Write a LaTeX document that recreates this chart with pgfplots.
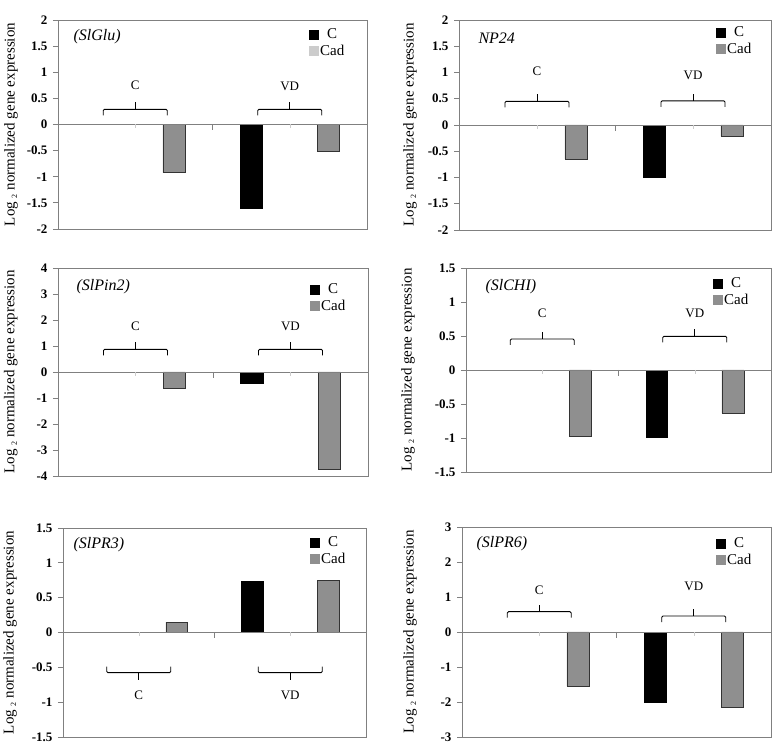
\documentclass[border=0pt]{standalone}
\usepackage{pgfplots}
\pgfplotsset{compat=1.18}
\usepackage{fontspec}
\setmainfont{Liberation Serif}

\definecolor{cadgrey}{HTML}{8F8F8F}
\definecolor{cadlight}{HTML}{CCCCCC}
\definecolor{framegrey}{HTML}{808080}
\definecolor{bardark}{HTML}{333333}

\newcommand{\fs}[1]{\fontsize{#1}{#1}\selectfont}

% bracket over a group: x, y of the bar, direction (1 = tip up, -1 = tip down)
\newcommand{\gbrace}[3]{%
  \draw[line width=0.9pt, rounded corners=1.2pt]
    ([xshift=-32pt,yshift=#3*-6pt]axis cs:#1,#2) -- ([xshift=-32pt]axis cs:#1,#2)
    -- ([xshift=32pt]axis cs:#1,#2) -- ([xshift=32pt,yshift=#3*-6pt]axis cs:#1,#2);
  \draw[line width=0.9pt] (axis cs:#1,#2) -- ([yshift=#3*7pt]axis cs:#1,#2);}

\newcommand{\zeroline}{%
  \draw[framegrey, line width=0.9pt] (axis cs:-0.5,0) -- (axis cs:1.5,0);
  \draw[framegrey, line width=0.8pt] (axis cs:0.5,0) -- ([yshift=-6pt]axis cs:0.5,0);
  \draw[black!20] (axis cs:0,0) -- ([yshift=-4pt]axis cs:0,0);
  \draw[black!20] (axis cs:1,0) -- ([yshift=-4pt]axis cs:1,0);}

\pgfplotsset{
  panel/.style={
    scale only axis, anchor=south west, clip=false,
    xmin=-0.5, xmax=1.5, xtick=\empty,
    axis line style={framegrey, line width=0.9pt},
    ytick pos=left, tick align=outside, major tick length=5pt,
    tick style={framegrey, line width=0.8pt},
    yticklabel style={font=\bfseries\fs{13}, xshift=-2pt},
    ylabel={Log \raisebox{-2.5pt}{\fs{8}2} normalized gene expression},
    every axis y label/.style={rotate=90, anchor=center, font=\fs{15}},
    legend image code/.code={\fill[##1] (0pt,-4.5pt) rectangle (9pt,4.5pt);},
    legend style={draw=none, fill=none, font=\fs{15}, anchor=north west,
      row sep=1.5pt, inner sep=0pt, nodes={inner sep=1.5pt},
      every legend image post/.style={}},
  },
  cbar/.style={ybar, bar shift=0pt, bar width=0.143, fill=black, draw=black, forget plot},
  gbar/.style={ybar, bar shift=0pt, bar width=0.143, fill=cadgrey, draw=bardark, forget plot},
  tick2/.style={ymin=-2, ymax=2, ytick={-2,-1.5,-1,-0.5,0,0.5,1,1.5,2},
    yticklabels={\textbf{-2},\textbf{-1.5},\textbf{-1},\textbf{-0.5},\textbf{0},
      \textbf{0.5},\textbf{1},\textbf{1.5},\textbf{2}}},
  tick15/.style={ymin=-1.5, ymax=1.5, ytick={-1.5,-1,-0.5,0,0.5,1,1.5},
    yticklabels={\textbf{-1.5},\textbf{-1},\textbf{-0.5},\textbf{0},\textbf{0.5},
      \textbf{1},\textbf{1.5}}},
}

\begin{document}
\begin{tikzpicture}
\useasboundingbox (0,0) rectangle (780pt,747pt);

% SlGlu
\begin{axis}[panel, tick2, at={(58pt,518pt)}, width=309pt, height=209pt,
  ylabel style={at={(axis description cs:-0.152,0.5)}},
  legend style={at={(axis description cs:1,1)}, xshift=-58pt, yshift=-7pt}]
\addlegendimage{black}\addlegendentry{C}
\addlegendimage{cadlight}\addlegendentry{Cad}
\addplot[cbar] coordinates {(0.75,-1.6)};
\addplot[gbar] coordinates {(0.25,-0.92) (1.25,-0.52)};
\zeroline
\gbrace{0}{0.29}{1}
\gbrace{1}{0.29}{1}
\node[font=\fs{13}] at (axis cs:0,0.75) {C};
\node[font=\fs{13}] at (axis cs:1,0.73) {VD};
\node[anchor=west, font=\itshape\fs{16}] at ([xshift=12pt,yshift=-17pt]axis description cs:0,1) {(SlGlu)};
\end{axis}

% NP24
\begin{axis}[panel, tick2, at={(459pt,517pt)}, width=312pt, height=210pt,
  ylabel style={at={(axis description cs:-0.157,0.5)}},
  legend style={at={(axis description cs:1,1)}, xshift=-55pt, yshift=-5pt}]
\addlegendimage{black}\addlegendentry{C}
\addlegendimage{cadgrey}\addlegendentry{Cad}
\addplot[cbar] coordinates {(0.75,-0.99)};
\addplot[gbar] coordinates {(0.25,-0.65) (1.25,-0.21)};
\zeroline
\gbrace{0}{0.45}{1}
\gbrace{1}{0.46}{1}
\node[font=\fs{13}] at (axis cs:0,1.02) {C};
\node[font=\fs{13}] at (axis cs:1,0.94) {VD};
\node[anchor=west, font=\itshape\fs{16}] at ([xshift=16pt,yshift=-18pt]axis description cs:0,1) {NP24};
\end{axis}

% SlPin2
\begin{axis}[panel, at={(58pt,271pt)}, width=310pt, height=208pt,
  ymin=-4, ymax=4, ytick={-4,-3,-2,-1,0,1,2,3,4},
  yticklabels={\textbf{-4},\textbf{-3},\textbf{-2},\textbf{-1},\textbf{0},
    \textbf{1},\textbf{2},\textbf{3},\textbf{4}},
  ylabel style={at={(axis description cs:-0.152,0.5)}},
  legend style={at={(axis description cs:1,1)}, xshift=-58pt, yshift=-14pt}]
\addlegendimage{black}\addlegendentry{C}
\addlegendimage{cadgrey}\addlegendentry{Cad}
\addplot[cbar] coordinates {(0.75,-0.42)};
\addplot[gbar] coordinates {(0.25,-0.64) (1.25,-3.74)};
\zeroline
\gbrace{0}{0.87}{1}
\gbrace{1}{0.87}{1}
\node[font=\fs{13}] at (axis cs:0,1.77) {C};
\node[font=\fs{13}] at (axis cs:1,1.77) {VD};
\node[anchor=west, font=\itshape\fs{16}] at ([xshift=15pt,yshift=-19pt]axis description cs:0,1) {(SlPin2)};
\end{axis}

% SlCHI
\begin{axis}[panel, tick15, at={(466pt,275pt)}, width=305pt, height=204pt,
  ylabel style={at={(axis description cs:-0.19,0.5)}},
  legend style={at={(axis description cs:1,1)}, xshift=-58pt, yshift=-8pt}]
\addlegendimage{black}\addlegendentry{C}
\addlegendimage{cadgrey}\addlegendentry{Cad}
\addplot[cbar] coordinates {(0.75,-0.985)};
\addplot[gbar] coordinates {(0.25,-0.975) (1.25,-0.635)};
\zeroline
\gbrace{0}{0.456}{1}
\gbrace{1}{0.495}{1}
\node[font=\fs{13}] at (axis cs:0,0.835) {C};
\node[font=\fs{13}] at (axis cs:1,0.835) {VD};
\node[anchor=west, font=\itshape\fs{16}] at ([xshift=16pt,yshift=-19pt]axis description cs:0,1) {(SlCHI)};
\end{axis}

% SlPR3
\begin{axis}[panel, tick15, at={(63pt,10pt)}, width=303pt, height=209pt,
  ylabel style={at={(axis description cs:-0.175,0.5)}},
  legend style={at={(axis description cs:1,1)}, xshift=-56pt, yshift=-7pt}]
\addlegendimage{black}\addlegendentry{C}
\addlegendimage{cadgrey}\addlegendentry{Cad}
\addplot[cbar] coordinates {(0.75,0.73)};
\addplot[gbar] coordinates {(0.25,0.148) (1.25,0.752)};
\zeroline
\gbrace{0}{-0.576}{-1}
\gbrace{1}{-0.576}{-1}
\node[font=\fs{13}] at (axis cs:0,-0.9) {C};
\node[font=\fs{13}] at (axis cs:1,-0.9) {VD};
\node[anchor=west, font=\itshape\fs{16}] at ([xshift=7pt,yshift=-17pt]axis description cs:0,1) {(SlPR3)};
\end{axis}

% SlPR6
\begin{axis}[panel, at={(462pt,10pt)}, width=309pt, height=210pt,
  ymin=-3, ymax=3, ytick={-3,-2,-1,0,1,2,3},
  yticklabels={\textbf{-3},\textbf{-2},\textbf{-1},\textbf{0},\textbf{1},
    \textbf{2},\textbf{3}},
  ylabel style={at={(axis description cs:-0.168,0.5)}},
  legend style={at={(axis description cs:1,1)}, xshift=-55pt, yshift=-9pt}]
\addlegendimage{black}\addlegendentry{C}
\addlegendimage{cadgrey}\addlegendentry{Cad}
\addplot[cbar] coordinates {(0.75,-2.0)};
\addplot[gbar] coordinates {(0.25,-1.55) (1.25,-2.15)};
\zeroline
\gbrace{0}{0.58}{1}
\gbrace{1}{0.457}{1}
\node[font=\fs{13}] at (axis cs:0,1.2) {C};
\node[font=\fs{13}] at (axis cs:1,1.31) {VD};
\node[anchor=west, font=\itshape\fs{16}] at ([xshift=11pt,yshift=-17pt]axis description cs:0,1) {(SlPR6)};
\end{axis}
\end{tikzpicture}
\end{document}
